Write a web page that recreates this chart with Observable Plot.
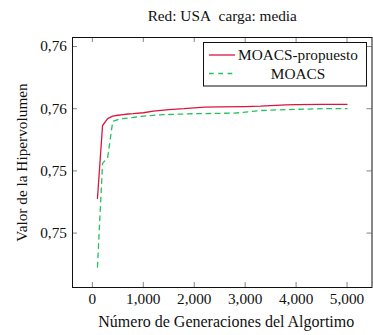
<!DOCTYPE html>
<html><head><meta charset="utf-8">
<script src="https://cdn.jsdelivr.net/npm/d3@7"></script>
<script src="https://cdn.jsdelivr.net/npm/@observablehq/plot@0.6"></script>
<style>
body{margin:0;background:#fff}
#c{position:relative;width:373px;height:335px;font-family:"Liberation Serif","Times New Roman",serif}
#legend{position:absolute;left:0;top:0}
#legend text{font-family:"Liberation Serif","Times New Roman",serif;font-size:15.3px}
</style>
</head><body><div id="c"></div>
<script>
const titleText = "Red: USA\u00a0\u00a0carga: media";
const xLabel = "Número de Generaciones del Algortimo";
const yLabel = "Valor de la Hipervolumen";
const seriesNames = ["MOACS-propuesto", "MOACS"];
const seriesColors = ["#d81740", "#22c25c"];

const gensRed = [100, 200, 300, 400, 500, 600, 700, 800, 1000, 1200, 1500, 1800, 2000, 2200, 2500, 3000, 3300, 3500, 3800, 4000, 4500, 5000];
const hvRed   = [0.75311, 0.75546, 0.75568, 0.75576, 0.75579, 0.75581, 0.75583, 0.75584, 0.75587, 0.75592, 0.75597, 0.75600, 0.75603, 0.75605, 0.75606, 0.75607, 0.75608, 0.75610, 0.75612, 0.75613, 0.75614, 0.75614];

const gensGreen = [100, 200, 300, 400, 500, 600, 800, 1000, 1300, 1600, 2000, 2500, 2800, 3000, 3300, 3600, 4000, 4500, 5000];
const hvGreen   = [0.75091, 0.75424, 0.75443, 0.75559, 0.75565, 0.75568, 0.75572, 0.75576, 0.75580, 0.75582, 0.75584, 0.75585, 0.75586, 0.75589, 0.75594, 0.75596, 0.75598, 0.75600, 0.75600];

const xTicks = [0, 1000, 2000, 3000, 4000, 5000];
const xTickLabels = ["0", "1,000", "2,000", "3,000", "4,000", "5,000"];
const yTicks = [0.752, 0.754, 0.756, 0.758];
const yTickLabels = ["0,75", "0,75", "0,76", "0,76"];

const W = 373, H = 335, mT = 37, mB = 48, mL = 72, mR = 1.5;
const innerH = H - mT - mB, innerW = W - mL - mR, tickLen = 5;
const serif = '"Liberation Serif","Times New Roman",serif';

const red = gensRed.map((g, i) => ({g, v: hvRed[i]}));
const green = gensGreen.map((g, i) => ({g, v: hvGreen[i]}));

const plot = Plot.plot({
  width: W, height: H,
  marginTop: mT, marginBottom: mB, marginLeft: mL, marginRight: mR,
  style: {fontFamily: serif, fontSize: "15.3px", color: "#111", background: "#fff"},
  x: {domain: [-390, 5490], label: null},
  y: {domain: [0.75025, 0.75829], label: null},
  marks: [
    Plot.axisX(xTicks, {tickSize: 0, tickPadding: 5.5, tickFormat: d => xTickLabels[xTicks.indexOf(d)], label: null}),
    Plot.axisY(yTicks, {tickSize: 0, tickPadding: 5.5, tickFormat: d => yTickLabels[yTicks.indexOf(d)], label: null}),
    Plot.tickX(xTicks, {x: d => d, insetTop: innerH - tickLen, stroke: "#777", strokeWidth: 0.9}),
    Plot.tickX(xTicks, {x: d => d, insetBottom: innerH - tickLen, stroke: "#777", strokeWidth: 0.9}),
    Plot.tickY(yTicks, {y: d => d, insetRight: innerW - tickLen, stroke: "#777", strokeWidth: 0.9}),
    Plot.tickY(yTicks, {y: d => d, insetLeft: innerW - tickLen, stroke: "#777", strokeWidth: 0.9}),
    Plot.line(green, {x: "g", y: "v", stroke: seriesColors[1], strokeWidth: 1.3, strokeDasharray: "4.7,4.6"}),
    Plot.line(red, {x: "g", y: "v", stroke: seriesColors[0], strokeWidth: 1.3}),
    Plot.frame({stroke: "#111", strokeWidth: 1}),
    Plot.text([titleText], {text: d => d, frameAnchor: "top", dy: -17, lineAnchor: "bottom"}),
    Plot.text([xLabel], {text: d => d, frameAnchor: "bottom", dx: 4, dy: 39.5, lineAnchor: "bottom", fontSize: 16}),
    Plot.text([yLabel], {text: d => d, frameAnchor: "left", rotate: -90, dx: -46, textAnchor: "middle", lineAnchor: "bottom"})
  ]
});
const c = document.getElementById("c");
c.appendChild(plot);

// legend overlay
const lg = d3.select(c).append("svg").attr("id", "legend").attr("width", W).attr("height", H);
lg.append("rect").attr("x", 203.5).attr("y", 42.5).attr("width", 163).attr("height", 43.5)
  .attr("fill", "#fff").attr("stroke", "#111").attr("stroke-width", 1);
const rowsY = [55, 73.5], baseY = [59.8, 78.5];
seriesNames.forEach((n, i) => {
  lg.append("line").attr("x1", 209).attr("x2", 235).attr("y1", rowsY[i]).attr("y2", rowsY[i])
    .attr("stroke", seriesColors[i]).attr("stroke-width", 1.3)
    .attr("stroke-dasharray", i === 1 ? "4.7,4.6" : null);
  lg.append("text").attr("x", 298).attr("y", baseY[i]).attr("text-anchor", "middle")
    .attr("fill", "#111").attr("font-family", serif).attr("font-size", "15.3px").text(n);
});
</script></body></html>
